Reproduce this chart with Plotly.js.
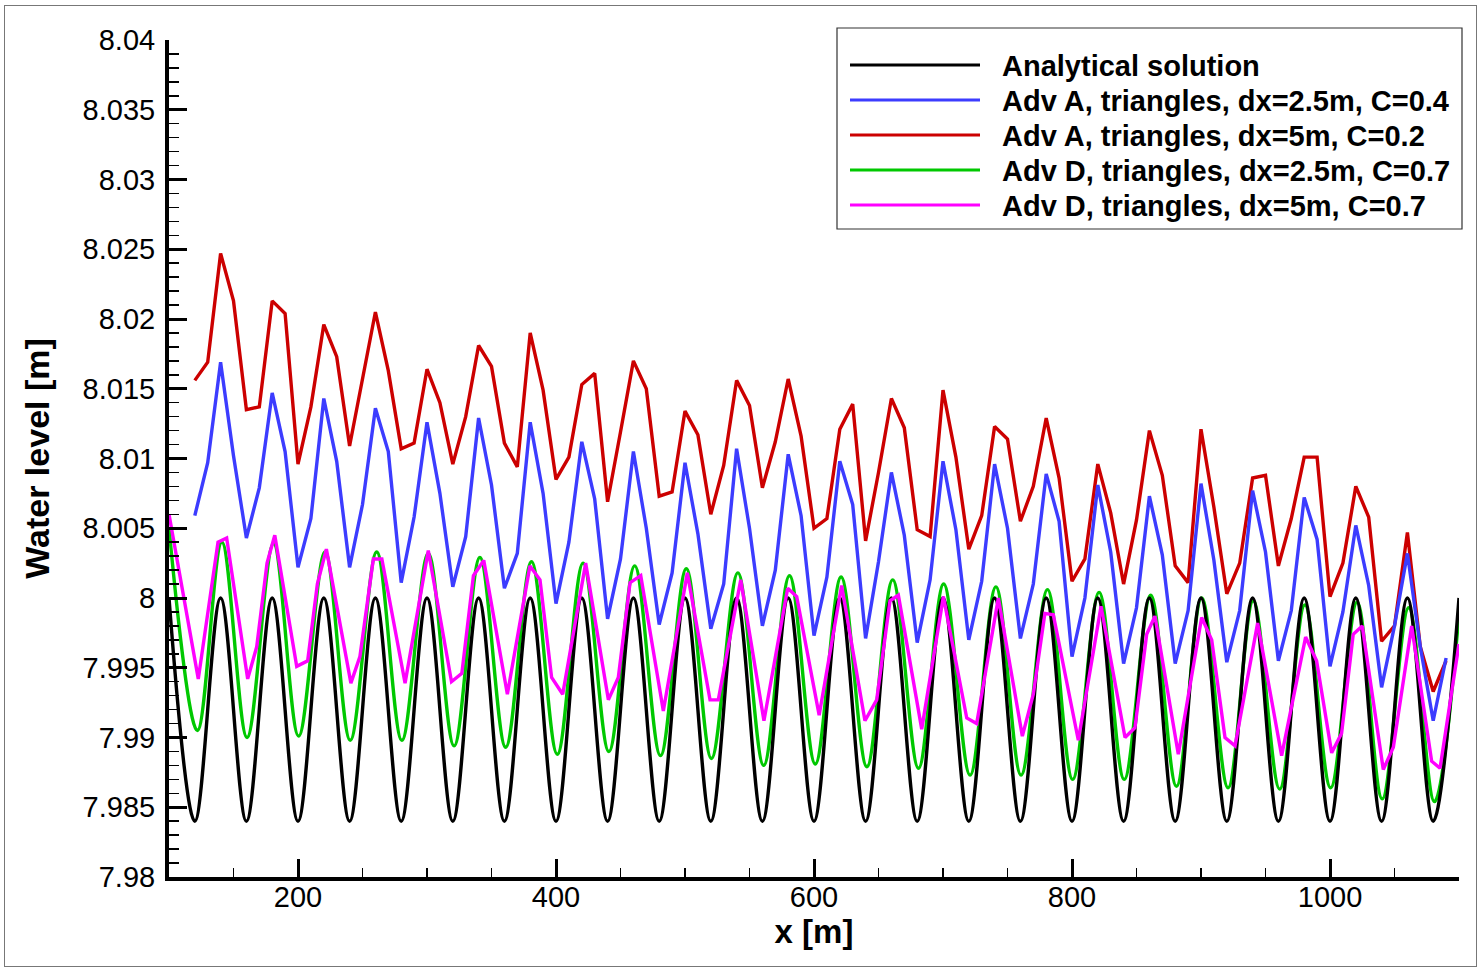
<!DOCTYPE html>
<html><head><meta charset="utf-8">
<script src="https://cdn.plot.ly/plotly-3.0.1.min.js"></script>
<style>
html,body{margin:0;padding:0;background:#fff;}
#plot{position:absolute;left:0;top:0;width:1480px;height:970px;}
#frame{position:absolute;left:4px;top:5px;width:1471px;height:960px;border:1px solid #777;pointer-events:none;}
</style>
</head><body>
<div id="plot"></div><div id="frame"></div>
<script>
// ---- data ----
const xAnalytical = [100,120,140,160,180,200,220,240,260,280,300,320,340,360,380,400,420,440,460,480,500,520,540,560,580,600,620,640,660,680,700,720,740,760,780,800,820,840,860,880,900,920,940,960,980,1000,1020,1040,1060,1080,1100];
const yAnalytical = [8.0,7.984,8.0,7.984,8.0,7.984,8.0,7.984,8.0,7.984,8.0,7.984,8.0,7.984,8.0,7.984,8.0,7.984,8.0,7.984,8.0,7.984,8.0,7.984,8.0,7.984,8.0,7.984,8.0,7.984,8.0,7.984,8.0,7.984,8.0,7.984,8.0,7.984,8.0,7.984,8.0,7.984,8.0,7.984,8.0,7.984,8.0,7.984,8.0,7.984,8.0];

const xAdvA = [120,130,140,150,160,170,180,190,200,210,220,230,240,250,260,270,280,290,300,310,320,330,340,350,360,370,380,390,400,410,420,430,440,450,460,470,480,490,500,510,520,530,540,550,560,570,580,590,600,610,620,630,640,650,660,670,680,690,700,710,720,730,740,750,760,770,780,790,800,810,820,830,840,850,860,870,880,890,900,910,920,930,940,950,960,970,980,990,1000,1010,1020,1030,1040,1050,1060,1070,1080,1090];

const yAdvA25 = [8.0059,8.0097,8.0169,8.0102,8.0043,8.0079,8.0147,8.0105,8.0022,8.0057,8.0143,8.0098,8.0022,8.0067,8.0136,8.0105,8.0011,8.0058,8.0126,8.0075,8.0008,8.0044,8.0129,8.0081,8.0007,8.0032,8.0126,8.0075,7.9996,8.0040,8.0112,8.0071,7.9985,8.0028,8.0105,8.0050,7.9981,8.0018,8.0097,8.0046,7.9978,8.0010,8.0107,8.0050,7.9980,8.0020,8.0103,8.0059,7.9973,8.0015,8.0098,8.0067,7.9971,8.0026,8.0090,8.0045,7.9968,8.0013,8.0098,8.0049,7.9970,8.0012,8.0096,8.0050,7.9971,8.0010,8.0089,8.0055,7.9958,8.0000,8.0081,8.0033,7.9953,7.9993,8.0073,8.0031,7.9953,7.9991,8.0082,8.0027,7.9954,7.9991,8.0077,8.0033,7.9955,7.9991,8.0072,8.0042,7.9951,7.9990,8.0052,8.0009,7.9936,7.9980,8.0032,7.9965,7.9912,7.9957];

const yAdvA5 = [8.0156,8.0169,8.0247,8.0213,8.0135,8.0137,8.0213,8.0204,8.0096,8.0137,8.0196,8.0173,8.0109,8.0157,8.0205,8.0163,8.0107,8.0111,8.0164,8.0140,8.0096,8.0130,8.0181,8.0166,8.0111,8.0094,8.0190,8.0149,8.0085,8.0101,8.0153,8.0161,8.0069,8.0119,8.0170,8.0150,8.0073,8.0076,8.0134,8.0117,8.0060,8.0095,8.0156,8.0138,8.0079,8.0112,8.0157,8.0116,8.0050,8.0057,8.0121,8.0139,8.0041,8.0090,8.0143,8.0122,8.0049,8.0044,8.0149,8.0101,8.0035,8.0059,8.0123,8.0114,8.0055,8.0080,8.0129,8.0086,8.0012,8.0028,8.0096,8.0061,8.0010,8.0056,8.0120,8.0088,8.0023,8.0011,8.0121,8.0065,8.0003,8.0025,8.0086,8.0088,8.0023,8.0057,8.0101,8.0101,8.0001,8.0025,8.0080,8.0058,7.9969,7.9980,8.0047,7.9965,7.9933,7.9955];

const xAdvD25 = [100,122,141,160.5,181,200.5,221,240.5,261,280.5,301,321,341,361,381,401,421,441,461,481,501,520.5,541,561,581,601,621,641,661,681,700.5,721,741,760.5,781,800.5,821,840.5,861,881,900.5,921,940.5,961,980.5,1000.5,1021,1040.5,1061,1081,1100];
const yAdvD25 = [8.0050,7.9905,8.0040,7.9900,8.0039,7.9901,8.0033,7.9898,8.0033,7.9898,8.0032,7.9894,8.0029,7.9893,8.0026,7.9888,8.0025,7.9890,8.0023,7.9887,8.0021,7.9885,8.0018,7.9880,8.0016,7.9881,8.0015,7.9879,8.0013,7.9878,8.0010,7.9873,8.0008,7.9873,8.0006,7.9870,8.0004,7.9870,8.0002,7.9865,8.0000,7.9864,7.9998,7.9863,7.9995,7.9864,7.9997,7.9856,7.9993,7.9854,7.9989];

const xAdvD5 = [100,122.7,138,144.7,161,168,176,182,199,207.5,215,222,241,248,258.4,265,283,301,319,327,336,344,362.3,379.8,387.6,396.6,405.2,423,440.6,448.3,457.4,465.7,483.2,501.8,519.4,525.8,543.2,561.2,579.6,586.6,604,621.4,639.5,648.6,658.9,665.4,683.5,700.3,718.4,726.1,742.9,761.5,770,779,785.5,804.9,822.5,841.1,848.8,857.9,864.3,882.4,900.5,908.3,918.6,926.4,943.9,962.5,981.1,989.6,1001.3,1009,1018,1025,1041.3,1049.1,1063.3,1078.8,1085.3,1100];
const yAdvD5 = [8.0060,7.9942,8.0040,8.0043,7.9942,7.9965,8.0025,8.0045,7.9951,7.9955,8.0010,8.0035,7.9939,7.9958,8.0028,8.0028,7.9939,8.0034,7.9940,7.9946,8.0016,8.0027,7.9931,8.0023,8.0013,7.9943,7.9931,8.0025,7.9927,7.9943,8.0011,8.0016,7.9919,8.0018,7.9927,7.9927,8.0013,7.9912,8.0007,8.0001,7.9916,8.0009,7.9912,7.9927,7.9998,8.0002,7.9906,8.0001,7.9914,7.9910,8.0000,7.9901,7.9931,7.9989,7.9988,7.9898,7.9994,7.9900,7.9907,7.9974,7.9987,7.9888,7.9986,7.9970,7.9900,7.9894,7.9982,7.9887,7.9972,7.9955,7.9889,7.9903,7.9974,7.9980,7.9877,7.9893,7.9980,7.9883,7.9878,7.9967];

const seriesNames = ["Analytical solution","Adv A, triangles, dx=2.5m, C=0.4","Adv A, triangles, dx=5m, C=0.2","Adv D, triangles, dx=2.5m, C=0.7","Adv D, triangles, dx=5m, C=0.7"];
const seriesColors = ["#000000","#3c3cff","#cc0000","#00c800","#ff00ff"];
const yTickVals = [7.98,7.985,7.99,7.995,8.0,8.005,8.01,8.015,8.02,8.025,8.03,8.035,8.04];
const yTickText = ["7.98","7.985","7.99","7.995","8","8.005","8.01","8.015","8.02","8.025","8.03","8.035","8.04"];
const xTickVals = [200,400,600,800,1000];
const xTickText = ["200","400","600","800","1000"];

// ---- chart ----
const FONT = '"Liberation Sans", Arial, Helvetica, sans-serif';
const LW = 3.4;
const traces = [
  {x:xAdvA, y:yAdvA5, name:seriesNames[2], mode:'lines', line:{color:seriesColors[2], width:LW}},
  {x:xAdvA, y:yAdvA25, name:seriesNames[1], mode:'lines', line:{color:seriesColors[1], width:LW}},
  {x:xAdvD25, y:yAdvD25, name:seriesNames[3], mode:'lines', line:{color:seriesColors[3], width:LW, shape:'spline', smoothing:1}},
  {x:xAnalytical, y:yAnalytical, name:seriesNames[0], mode:'lines', line:{color:seriesColors[0], width:LW, shape:'spline', smoothing:1}},
  {x:xAdvD5, y:yAdvD5, name:seriesNames[4], mode:'lines', line:{color:seriesColors[4], width:LW}}
];

// legend drawn in paper coordinates (plot area: x 169..1459 px, y 40..877 px)
const W = 1290, H = 837, L = 169, B = 877;
const px = v => (v - L) / W;
const py = v => (B - v) / H;
const rowY = [65, 100, 135, 170, 205];
const shapes = [
  {type:'rect', xref:'paper', yref:'paper', x0:px(837), x1:px(1462), y0:py(229), y1:py(28),
   line:{color:'#333', width:1.2}, fillcolor:'#ffffff', layer:'above'}
];
const annotations = [];
seriesNames.forEach((n, i) => {
  shapes.push({type:'line', xref:'paper', yref:'paper', x0:px(850), x1:px(980), y0:py(rowY[i]), y1:py(rowY[i]),
               line:{color:seriesColors[i], width:3}, layer:'above'});
  annotations.push({xref:'paper', yref:'paper', x:px(1000), y:py(rowY[i] + 1), xanchor:'left', yanchor:'middle',
                    showarrow:false, text:n, font:{family:FONT, size:29, weight:'bold', color:'#000'}});
});

const layout = {
  width:1480, height:970,
  margin:{l:169, r:21, t:40, b:93, pad:0},
  paper_bgcolor:'#ffffff', plot_bgcolor:'#ffffff',
  font:{family:FONT, color:'#000', size:28},
  showlegend:false,
  shapes: shapes, annotations: annotations,
  xaxis:{range:[100,1100], showgrid:false, zeroline:false, showline:true, linecolor:'#000', linewidth:4,
         tickmode:'array', tickvals:xTickVals, ticktext:xTickText, ticks:'inside', ticklen:18, tickwidth:3, tickcolor:'#000',
         minor:{dtick:50, tick0:0, ticks:'inside', ticklen:9, tickwidth:1.5, tickcolor:'#000', showgrid:false},
         tickfont:{family:FONT, size:29, color:'#000'}, ticklabelstandoff:-9,
         title:{text:'x [m]', font:{family:FONT, size:33, weight:'bold', color:'#000'}, standoff:2}, automargin:false},
  yaxis:{range:[7.98,8.04], showgrid:false, zeroline:false, showline:true, linecolor:'#000', linewidth:4,
         tickmode:'array', tickvals:yTickVals, ticktext:yTickText, ticks:'inside', ticklen:18, tickwidth:3, tickcolor:'#000',
         minor:{dtick:0.001, tick0:7.98, ticks:'inside', ticklen:10, tickwidth:1.5, tickcolor:'#000', showgrid:false},
         tickfont:{family:FONT, size:29, color:'#000'}, ticklabelstandoff:4,
         title:{text:'Water level [m]', font:{family:FONT, size:34, weight:'bold', color:'#000'}, standoff:24}, automargin:false},
  hovermode:false
};
Plotly.newPlot('plot', traces, layout, {displayModeBar:false, staticPlot:true});
</script>
</body></html>
